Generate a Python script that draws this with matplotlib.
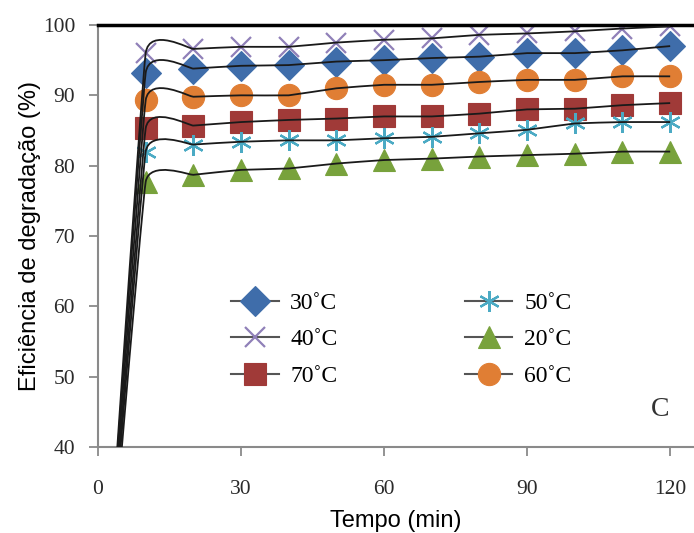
import numpy as np
import matplotlib
matplotlib.use("Agg")
import matplotlib.pyplot as plt
from matplotlib.path import Path
from matplotlib.patches import PathPatch
from matplotlib.lines import Line2D

# Tempo (min) and degradation efficiency (%) per temperature
tempo = [0, 10, 20, 30, 40, 50, 60, 70, 80, 90, 100, 110, 120]
ef_30 = [0, 93.2, 93.8, 94.2, 94.3, 94.8, 95.0, 95.3, 95.5, 96.0, 96.0, 96.4, 97.0]
ef_40 = [0, 96.0, 96.6, 96.9, 96.9, 97.5, 97.9, 98.1, 98.6, 98.8, 99.1, 99.5, 99.8]
ef_70 = [0, 85.3, 85.7, 86.2, 86.5, 86.7, 87.0, 87.0, 87.4, 88.0, 88.1, 88.6, 88.9]
ef_50 = [0, 82.0, 83.0, 83.4, 83.6, 83.6, 83.9, 84.1, 84.6, 85.1, 86.0, 86.2, 86.2]
ef_20 = [0, 77.7, 78.7, 79.4, 79.6, 80.3, 80.8, 81.0, 81.3, 81.5, 81.7, 82.0, 82.0]
ef_60 = [0, 89.3, 89.8, 90.0, 90.0, 91.0, 91.5, 91.5, 91.9, 92.2, 92.2, 92.7, 92.7]

labels = ["30˚C", "40˚C", "70˚C", "50˚C", "20˚C", "60˚C"]
series = [ef_30, ef_40, ef_70, ef_50, ef_20, ef_60]
markers = ["D", "x", "s", (6, 2, 0), "^", "o"]
sizes = [15, 14, 16, 15, 16, 16]
colors = ["#3F6DAA", "#9080B8", "#A03A38", "#4BAAC4", "#78A23C", "#E07E34"]

SERIF = "Liberation Serif"
SANS = "Liberation Sans"


def smooth_path(x, y, k=0.04):
    # excel-like smoothed line: cubic bezier through every point
    pts = np.column_stack([x, y]).astype(float)
    n = len(pts)
    verts = [pts[0]]
    codes = [Path.MOVETO]
    for i in range(n - 1):
        p0 = pts[max(i - 1, 0)]
        p1 = pts[i]
        p2 = pts[i + 1]
        p3 = pts[min(i + 2, n - 1)]
        c1 = p1 + (p2 - p0) * k
        c2 = p2 - (p3 - p1) * k
        verts += [c1, c2, p2]
        codes += [Path.CURVE4] * 3
    return Path(verts, codes)


def edge_width(mk):
    return 1.6 if mk in ("x", (6, 2, 0)) else 0.8


fig = plt.figure(figsize=(6.94, 5.33), dpi=100)
ax = fig.add_axes([98 / 694, 1 - 447 / 533, 1 - 98 / 694, (447 - 25) / 533])

for vals, mk, ms, col in zip(series, markers, sizes, colors):
    ax.plot(tempo, vals, linestyle="none", marker=mk, markersize=ms,
            color=col, markeredgecolor=col, markeredgewidth=edge_width(mk),
            zorder=2)
    patch = PathPatch(smooth_path(tempo, vals), facecolor="none",
                      edgecolor="#1a1a1a", lw=1.3, zorder=3)
    ax.add_patch(patch)

ax.set_xlim(0, 125)
ax.set_ylim(40, 100)
ax.set_xticks([0, 30, 60, 90, 120])
ax.set_yticks([40, 50, 60, 70, 80, 90, 100])

for side in ["left", "bottom"]:
    ax.spines[side].set_color("#8a8a8a")
    ax.spines[side].set_linewidth(1.5)
ax.spines["right"].set_visible(False)
ax.spines["top"].set_color("black")
ax.spines["top"].set_linewidth(2.5)

ax.tick_params(axis="both", direction="out", length=6.5, width=1.3,
               color="#8a8a8a", labelsize=15.5)
ax.tick_params(axis="y", pad=10)
ax.tick_params(axis="x", pad=17)
for lab in ax.get_xticklabels() + ax.get_yticklabels():
    lab.set_fontfamily(SERIF)
    lab.set_color("#2a2a2a")

ax.set_xlabel("Tempo (min)", fontsize=17, family=SANS, labelpad=8)
ax.set_ylabel("Eficiência de degradação (%)", fontsize=17, family=SANS, labelpad=1)

ax.text(0.943, 0.09, "C", transform=ax.transAxes, fontsize=20, family=SERIF,
        ha="center", va="center", color="#333333")

handles = [Line2D([], [], color="#555555", lw=1.5, marker=mk, markersize=ms,
                  markerfacecolor=col, markeredgecolor=col,
                  markeredgewidth=edge_width(mk))
           for mk, ms, col in zip(markers, sizes, colors)]
leg = ax.legend(handles, labels, ncol=2, frameon=False, loc="upper left",
                bbox_to_anchor=(0.188, 0.417), prop={"family": SERIF, "size": 17},
                handlelength=2.0, handletextpad=0.5, columnspacing=5.4,
                labelspacing=0.64)

fig.savefig("out.png", dpi=100)
